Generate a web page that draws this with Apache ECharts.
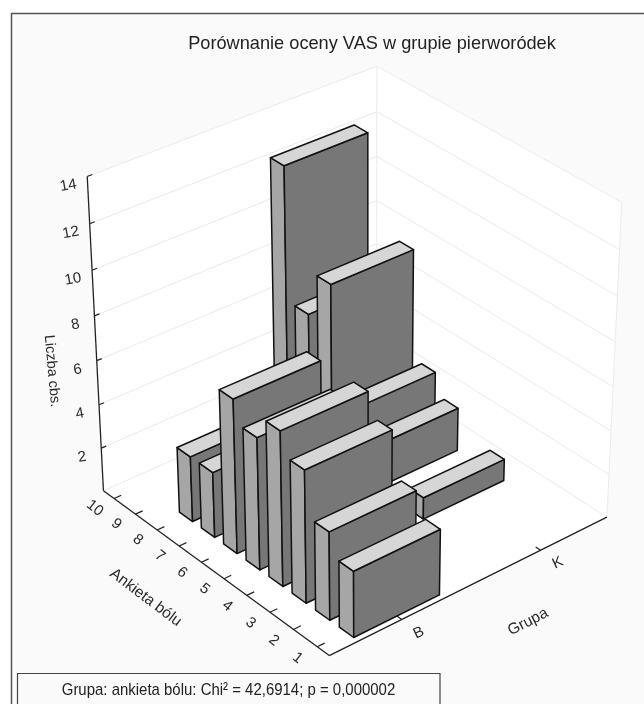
<!DOCTYPE html>
<html><head><meta charset="utf-8">
<style>html,body{margin:0;padding:0;background:#fff}#c{width:644px;height:704px}</style>
<script src="https://cdn.jsdelivr.net/npm/echarts@6/dist/echarts.min.js"></script>
</head><body><div id="c"></div>
<script>
const painCategories = ['1','2','3','4','5','6','7','8','9','10'];
const groupCategories = ['B','K'];
const countTicks = [2,4,6,8,10,12,14];
const groupB = [3,4,6,7,6,7,3,3,0,0];
const groupK = [0,0,0,1,0,2,3,8,6,12];
const titleText = 'Porównanie oceny VAS w grupie pierworódek';
const statText = 'Grupa: ankieta bólu: Chi² = 42,6914; p = 0,000002';

// Scales: category -> unit cube coordinates
const maxCount = 14;
const U = p => (p + 0.5) / painCategories.length;
const V = g => (g + 0.5) / groupCategories.length;
const Z = c => c / maxCount;
const barU = 0.03, barV = 0.15;

// Perspective calibration of the 3D box (cube corner -> screen)
const calib = [
 [0,0,0,329,657],[1,0,0,103,489],[0,1,0,607,515],[1,1,0,377,372],
 [1,0,1,88,177],[1,1,1,376,65],[0,1,1,622,203]
];
function solveCamera(pts){
  const A=[],b=[];
  pts.forEach(([u,v,z,x,y])=>{
    A.push([u,v,z,1,0,0,0,0,-x*u,-x*v,-x*z]);b.push(x);
    A.push([0,0,0,0,u,v,z,1,-y*u,-y*v,-y*z]);b.push(y);
  });
  const n=11,M=[];
  for(let i=0;i<n;i++){M.push([]);for(let j=0;j<=n;j++){let s=0;
    for(let k=0;k<A.length;k++)s+=A[k][i]*(j<n?A[k][j]:b[k]);M[i].push(s);}}
  for(let i=0;i<n;i++){let m=i;for(let r=i+1;r<n;r++)if(Math.abs(M[r][i])>Math.abs(M[m][i]))m=r;
    [M[i],M[m]]=[M[m],M[i]];
    for(let r=0;r<n;r++)if(r!==i){const f=M[r][i]/M[i][i];for(let c=i;c<=n;c++)M[r][c]-=f*M[i][c];}}
  return M.map((r,i)=>r[n]/r[i]);
}
const cam = solveCamera(calib);
function P(u,v,z){
  const w=cam[8]*u+cam[9]*v+cam[10]*z+1;
  return [(cam[0]*u+cam[1]*v+cam[2]*z+cam[3])/w,(cam[4]*u+cam[5]*v+cam[6]*z+cam[7])/w];
}
const face=(pts,fill)=>({type:'polygon',shape:{points:pts},
  style:{fill,stroke:'#111',lineWidth:1.5,lineJoin:'round'}});
const line=(a,b,stroke,lw)=>({type:'line',shape:{x1:a[0],y1:a[1],x2:b[0],y2:b[1]},style:{stroke,lineWidth:lw}});
const txt=(p,text,rot,size)=>({type:'text',x:p[0],y:p[1],rotation:rot*Math.PI/180,
  style:{text,fontFamily:'Liberation Sans',fontSize:size,fill:'#2a2a2a',align:'center',verticalAlign:'middle'}});

// Bars, back to front
const barData=[];
for(let p=painCategories.length-1;p>=0;p--){
  if(groupK[p]>0)barData.push([p,1,groupK[p]]);
  if(groupB[p]>0)barData.push([p,0,groupB[p]]);
}
function renderBar(params,api){
  const u=U(api.value(0)),v=V(api.value(1)),z=Z(api.value(2));
  const u0=u-barU,u1=u+barU,v0=v-barV,v1=v+barV;
  return {type:'group',children:[
    face([P(u0,v0,0),P(u1,v0,0),P(u1,v0,z),P(u0,v0,z)],'#a6a6a6'),
    face([P(u0,v0,0),P(u0,v1,0),P(u0,v1,z),P(u0,v0,z)],'#777777'),
    face([P(u0,v0,z),P(u0,v1,z),P(u1,v1,z),P(u1,v0,z)],'#d6d6d6')
  ]};
}
function renderFrame(){
  const ch=[];
  const wallStyle={fill:'#ffffff'};
  ch.push({type:'polygon',shape:{points:[P(1,0,0),P(1,1,0),P(1,1,1),P(1,0,1)]},style:wallStyle});
  ch.push({type:'polygon',shape:{points:[P(1,1,0),P(0,1,0),P(0,1,1),P(1,1,1)]},style:wallStyle});
  ch.push({type:'polygon',shape:{points:[P(0,0,0),P(1,0,0),P(1,1,0),P(0,1,0)]},style:wallStyle});
  const g='#ebebeb';
  ch.push(line(P(1,1,0),P(1,1,1),g,1),line(P(0,1,0),P(0,1,1),g,1));
  ch.push(line(P(1,0,0),P(1,1,0),g,1),line(P(0,1,0),P(1,1,0),g,1));
  countTicks.forEach(c=>{
    ch.push(line(P(1,0,Z(c)),P(1,1,Z(c)),g,1),line(P(1,1,Z(c)),P(0,1,Z(c)),g,1));
  });
  // axes
  const k='#222';
  ch.push(line(P(1,0,0),P(1,0,1),k,1.3),line(P(1,0,0),P(0,0,0),k,1.3),line(P(0,0,0),P(0,1,0),k,1.3));
  countTicks.forEach(c=>{
    const a=P(1,0,Z(c));ch.push(line(a,[a[0]+5,a[1]-2],k,1.2));
    ch.push(txt([a[0]-19,a[1]+9],String(c),10,15));
  });
  painCategories.forEach((t,i)=>{
    const a=P(U(i),0,0),b=P(U(i),0.025,0);ch.push(line(a,b,k,1.2));
    const q=P(U(i),-0.09,0);
    ch.push(txt([q[0]+7,q[1]-2],t,-38,15));
  });
  groupCategories.forEach((t,i)=>{
    const a=P(0,V(i),0),b=P(0.02,V(i),0);ch.push(line(a,b,k,1.2));
    const q=P(-0.09,V(i),0);
    ch.push(txt([q[0]-5,q[1]-2],t,25,15));
  });
  const ap=P(0.5,-0.26,0);
  ch.push(txt([ap[0]+10,ap[1]-9],'Ankieta bólu',-37,15.5));
  const gp=P(-0.17,0.5,0);
  ch.push(txt([gp[0]+14,gp[1]+9],'Grupa',27,15.5));
  ch.push(txt([52,371],'Liczba cbs.',-85,14.5));
  return {type:'group',children:ch};
}
const chart=echarts.init(document.getElementById('c'),null,{renderer:'canvas'});
chart.setOption({
  animation:false,
  backgroundColor:'#ffffff',
  graphic:[
    {type:'rect',z:-10,shape:{x:11.5,y:13.5,width:640,height:700},style:{fill:'#fafafa',stroke:'#555',lineWidth:1.5}},
    {type:'rect',z:20,shape:{x:17.5,y:673.5,width:422.5,height:40},style:{fill:'#fafafa',stroke:'#444',lineWidth:1.2}},
    {type:'text',z:21,x:228.5,y:690.5,scaleX:0.88,style:{text:statText,fontFamily:'Liberation Sans',fontSize:17,fill:'#222',align:'center',verticalAlign:'middle'}}
  ],
  title:{text:titleText,left:367,top:30,textAlign:'center',
    textStyle:{fontFamily:'Liberation Sans',fontSize:18.2,fontWeight:'normal',color:'#222'}},
  series:[
    {type:'custom',coordinateSystem:'none',silent:true,z:1,data:[[0]],renderItem:renderFrame},
    {type:'custom',coordinateSystem:'none',silent:true,z:2,data:barData,
      encode:{},renderItem:renderBar}
  ]
});
</script></body></html>
